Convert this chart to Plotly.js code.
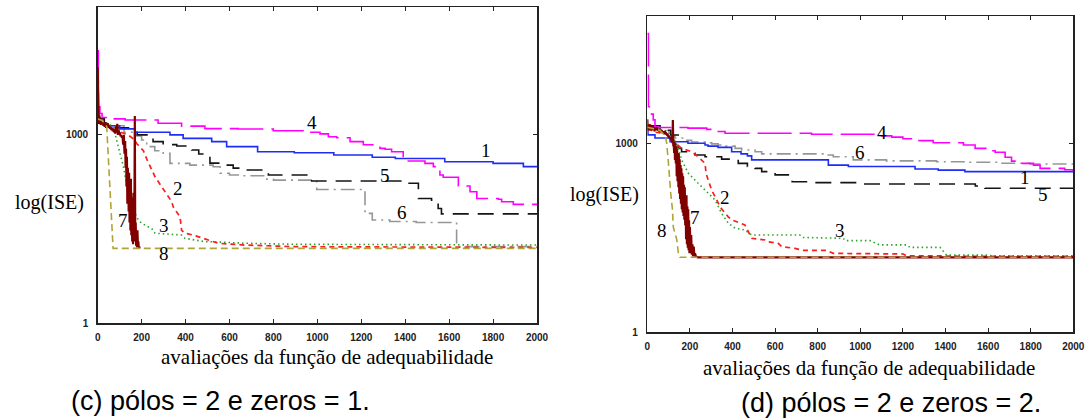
<!DOCTYPE html>
<html>
<head>
<meta charset="utf-8">
<script src="https://cdn.plot.ly/plotly-3.0.1.min.js"></script>
<style>html,body{margin:0;padding:0;background:#fff;}#chart{width:1089px;height:418px;}</style>
</head>
<body>
<div id="chart"></div>
<script>
// ---------- Data: panel (c) pólos = 2 e zeros = 1 ----------
const c1_x = [0, 10, 40, 100, 170, 329, 389, 519, 587, 728, 895, 1075, 1250, 1355, 1580, 1800, 1938, 2000];
const c1_y = [1900, 1550, 1400, 1250, 1100, 1000, 880, 780, 650, 540, 520, 478, 440, 420, 373, 352, 312, 312];

const c2_x = [0, 30, 79, 138, 170, 177, 208, 225, 261, 291, 314, 337, 344, 375, 382, 397, 435, 490, 520, 548, 670, 900, 2000];
const c2_y = [1800, 1500, 1190, 1000, 830, 730, 560, 400, 215, 150, 117, 86, 71, 49, 30, 27, 25.3, 22, 20, 18.7, 17.5, 16.5, 16];

const c3_x = [0, 30, 48, 71, 86, 94, 109, 117, 139, 155, 185, 200, 246, 261, 382, 397, 488, 519, 671, 900, 2000];
const c3_y = [1800, 1600, 1530, 1360, 830, 650, 400, 312, 117, 71, 44, 39, 32, 27, 25.3, 22.4, 19.8, 19.8, 18.7, 18, 17.5];

const c4_x = [0, 3, 10, 20, 60, 125, 275, 382, 488, 640, 799, 935, 1012, 1050, 1088, 1149, 1209, 1285, 1308, 1338, 1391, 1414, 1490, 1528, 1558, 1573, 1642, 1695, 1726, 1824, 1839, 1892, 2000];
const c4_y = [22000, 2800, 2200, 1900, 1800, 1730, 1530, 1380, 1260, 1240, 1165, 1100, 1040, 935, 900, 780, 695, 610, 589, 540, 424, 384, 352, 312, 229, 211, 153, 124, 97, 94, 86, 78, 75];

const c5_x = [0, 30, 80, 140, 180, 230, 252, 298, 360, 428, 460, 511, 557, 617, 663, 777, 974, 1400, 1460, 1520, 1550, 1565, 2000];
const c5_y = [1800, 1500, 1300, 1100, 1000, 900, 780, 700, 665, 575, 495, 355, 330, 295, 275, 229, 184, 169, 97, 91, 67, 55, 55];

const c6_x = [0, 30, 120, 177, 200, 223, 260, 298, 329, 420, 526, 557, 600, 663, 770, 800, 997, 1217, 1250, 1330, 1450, 1634, 2000];
const c6_y = [1700, 1400, 1100, 960, 830, 650, 560, 510, 352, 330, 310, 245, 229, 223, 196, 190, 135, 56, 44, 41.6, 40, 16.5, 16.5];

const c7_x = [0, 1, 2, 3, 5, 7, 9, 11, 14, 17, 20, 23, 26, 29, 32, 35, 38, 41, 44, 47, 50, 53, 56, 59, 62, 65, 68, 71, 74, 77, 80, 83, 86, 89, 92, 95, 98, 101, 104, 107, 110, 113, 116, 119, 122, 125, 127, 129, 131, 133, 135, 137, 139, 141, 143, 145, 147, 149, 151, 153, 155, 157, 159, 161, 163, 165, 167, 169, 171, 173, 175, 177, 179, 181, 183, 185, 187, 189, 191, 193, 195];
const c7_y = [12000, 5000, 2600, 1900, 1500, 2100, 1600, 1900, 1450, 1700, 1500, 1650, 1400, 1550, 1350, 1600, 1300, 1450, 1350, 1500, 1300, 1400, 1250, 1350, 1200, 1300, 1150, 1250, 1100, 1200, 1050, 1300, 1100, 1500, 1000, 1200, 1050, 1100, 950, 1000, 900, 950, 700, 1000, 500, 800, 300, 600, 150, 450, 80, 300, 200, 60, 250, 40, 150, 30, 200, 25, 100, 20, 60, 18, 120, 20, 40, 2000, 20, 40, 17, 25, 16, 30, 17, 20, 16, 16, 16, 16, 16];

const c8_x = [0, 20, 41, 48, 70, 2000];
const c8_y = [1800, 1700, 1360, 510, 15.5, 15.5];

// ---------- Data: panel (d) pólos = 2 e zeros = 2 ----------
const d1_x = [0, 3, 36, 107, 191, 271, 285, 332, 396, 440, 470, 490, 850, 944, 1257, 1366, 1491, 2000];
const d1_y = [1630, 1360, 1210, 1060, 1000, 940, 900, 860, 735, 680, 630, 545, 450, 427, 390, 375, 355, 355];

const d2_x = [0, 36, 83, 161, 208, 239, 271, 276, 286, 302, 326, 341, 380, 396, 458, 474, 490, 553, 568, 615, 631, 693, 732, 842, 873, 1202, 1218, 1374, 1500, 2000];
const d2_y = [1700, 1500, 1440, 830, 735, 610, 480, 334, 260, 181, 126, 98, 68, 61, 50.6, 40.5, 31, 29.2, 27.4, 25.8, 22.8, 21.5, 20, 20, 17.9, 17.5, 16.3, 16.3, 16, 16];

const d3_x = [0, 83, 114, 145, 161, 193, 224, 255, 286, 318, 349, 380, 412, 458, 490, 716, 732, 920, 930, 1045, 1090, 1218, 1233, 1374, 1405, 1600, 1620, 2000];
const d3_y = [1700, 1630, 1360, 880, 545, 334, 260, 205, 160, 126, 77, 54, 45, 42, 35, 35, 32, 31, 28.5, 28.5, 24.4, 24.4, 22.3, 22.3, 16.8, 16.8, 16.3, 16.3];

const d4_x = [0, 5, 15, 28, 36, 50, 191, 279, 302, 365, 771, 1100, 1148, 1200, 1270, 1342, 1484, 1539, 1594, 1633, 1680, 1710, 1734, 1813, 1844, 1960, 2000];
const d4_y = [55000, 3800, 2900, 2350, 1830, 1780, 1740, 1660, 1540, 1440, 1390, 1310, 1250, 1180, 1100, 1020, 940, 830, 760, 720, 600, 520, 480, 450, 400, 380, 355];

const d5_x = [0, 60, 110, 145, 161, 193, 224, 271, 349, 427, 470, 506, 537, 600, 662, 680, 763, 1000, 1500, 1540, 1585, 2000];
const d5_y = [1900, 1600, 1350, 830, 735, 695, 650, 610, 560, 480, 427, 400, 355, 315, 295, 245, 237, 226, 226, 210, 193, 193];

const d6_x = [0, 50, 100, 130, 176, 208, 271, 302, 333, 365, 412, 443, 506, 537, 842, 873, 967, 1123, 1358, 1491, 1640, 1797, 2000];
const d6_y = [1800, 1500, 1300, 1210, 1110, 1050, 1020, 980, 940, 900, 830, 780, 735, 680, 650, 610, 545, 525, 510, 500, 482, 470, 470];

const d7_x = [0, 2, 4, 6, 8, 10, 13, 16, 19, 22, 25, 28, 31, 34, 37, 40, 44, 48, 52, 56, 60, 64, 68, 72, 76, 80, 84, 88, 92, 96, 100, 104, 108, 112, 114, 116, 118, 120, 122, 124, 126, 128, 130, 132, 134, 136, 138, 140, 142, 144, 146, 148, 150, 152, 154, 156, 158, 160, 162, 164, 166, 168, 170, 172, 174, 176, 178, 180, 182, 184, 186, 188, 190, 192, 194, 196, 198, 200, 203, 206, 209, 212, 215, 218, 221, 224, 228, 232, 236, 240, 2000];
const d7_y = [2400, 1700, 2000, 1600, 1900, 1750, 2000, 1650, 1850, 1600, 1900, 1700, 1800, 1550, 1750, 1650, 1800, 1600, 1700, 1550, 1650, 1500, 1600, 1450, 1550, 1400, 1500, 1450, 1400, 1350, 1300, 1250, 1200, 1150, 1110, 1300, 1000, 2350, 900, 1000, 700, 1050, 545, 1000, 480, 900, 300, 800, 250, 700, 200, 690, 160, 560, 130, 450, 110, 400, 90, 335, 80, 300, 70, 220, 61, 200, 50, 130, 30, 150, 25, 100, 22, 90, 20, 60, 18, 47, 18, 35, 17, 25, 16, 23, 16, 18, 16, 15.6, 15.5, 15.5, 15.5];

const d8_x = [0, 60, 85, 91, 99, 104, 110, 118, 122, 130, 138, 146, 153, 2000];
const d8_y = [1800, 1600, 1300, 1000, 500, 250, 160, 90, 47, 37, 30, 18, 15.5, 15.5];

const xTicks = [0, 200, 400, 600, 800, 1000, 1200, 1400, 1600, 1800, 2000];
const yTicks = [1, 1000];
const yTickText = ['1', '1000'];
const curveNames = ['1', '2', '3', '4', '5', '6', '7', '8'];
const yLabel = 'log(ISE)';
const xLabel = 'avaliações da função de adequabilidade';
const captionC = '(c) pólos = 2 e zeros = 1.';
const captionD = '(d) pólos = 2 e zeros = 2.';

// ---------- Styles ----------
const W = 1089, H = 418;
const fx = p => p / W;
const fy = p => 1 - p / H;

const styles = {
  '1': {color: 'rgb(30,45,245)', width: 1.6, dash: 'solid', shape: 'hv'},
  '2': {color: 'rgb(250,30,30)', width: 1.7, dash: '5px,4px', shape: 'linear'},
  '3': {color: 'rgb(40,165,40)', width: 1.6, dash: '1.5px,3px', shape: 'linear'},
  '4': {color: 'rgb(255,0,255)', width: 1.6, dash: '34px,8px', shape: 'hv'},
  '5': {color: 'rgb(20,20,20)', width: 1.6, dash: '16px,9px', shape: 'hv'},
  '6': {color: 'rgb(150,150,150)', width: 1.6, dash: '14px,5px,2px,5px', shape: 'hv'},
  '7': {color: 'rgb(128,0,0)', width: 2.2, dash: 'solid', shape: 'linear'},
  '8': {color: 'rgb(175,165,55)', width: 1.6, dash: '7px,4px', shape: 'linear'}
};

function tr(name, x, y, xa, ya) {
  const s = styles[name];
  return {x: x, y: y, xaxis: xa, yaxis: ya, mode: 'lines', name: name,
    line: {color: s.color, width: s.width, dash: s.dash, shape: s.shape}, hoverinfo: 'skip'};
}

const cSeries = {'1': [c1_x, c1_y], '2': [c2_x, c2_y], '3': [c3_x, c3_y], '4': [c4_x, c4_y],
  '5': [c5_x, c5_y], '6': [c6_x, c6_y], '7': [c7_x, c7_y], '8': [c8_x, c8_y]};
const dSeries = {'1': [d1_x, d1_y], '2': [d2_x, d2_y], '3': [d3_x, d3_y], '4': [d4_x, d4_y],
  '5': [d5_x, d5_y], '6': [d6_x, d6_y], '7': [d7_x, d7_y], '8': [d8_x, d8_y]};
const order = ['6', '5', '1', '4', '3', '2', '7', '8'];

const data = [];
order.forEach(n => data.push(tr(n, cSeries[n][0], cSeries[n][1], 'x', 'y')));
order.forEach(n => data.push(tr(n, dSeries[n][0], dSeries[n][1], 'x2', 'y2')));

const tickFont = {family: 'Liberation Sans, Arial, sans-serif', size: 10, color: '#222', weight: 'bold'};
function xax(domain, anchor) {
  return {domain: domain, anchor: anchor, range: [0, 2000], tickvals: xTicks,
    ticks: 'inside', ticklen: 4, tickwidth: 1, tickcolor: '#222', mirror: 'ticks',
    showline: true, linecolor: '#222', linewidth: 1.5, showgrid: false, zeroline: false,
    tickfont: tickFont, ticklabelstandoff: 4};
}
function yax(domain, anchor, top) {
  return {domain: domain, anchor: anchor, type: 'log', range: [0, top], tickvals: yTicks, ticktext: yTickText,
    ticks: 'inside', ticklen: 4, tickwidth: 1, tickcolor: '#222', mirror: 'ticks',
    showline: true, linecolor: '#222', linewidth: 1.5, showgrid: false, zeroline: false,
    tickfont: tickFont, ticklabelstandoff: 6};
}

const serif = '"Liberation Serif", "Times New Roman", serif';
const sans = '"Liberation Sans", Arial, sans-serif';
function lab(text, px, py, size, family) {
  return {text: text, xref: 'paper', yref: 'paper', x: fx(px), y: fy(py), xanchor: 'center', yanchor: 'middle',
    showarrow: false, font: {family: family || serif, size: size || 19, color: '#000'}};
}

const cLabelPos = {'4': [312, 122], '1': [486, 150], '5': [385, 175], '2': [178, 188], '6': [402, 212], '7': [123, 220], '3': [164, 225], '8': [164, 253]};
const dLabelPos = {'4': [882, 132], '6': [860, 152], '1': [1025, 177], '5': [1043, 194], '3': [840, 230], '2': [725, 197], '7': [695, 217], '8': [662, 230]};

const annotations = [];
curveNames.forEach(n => annotations.push(lab(n, cLabelPos[n][0], cLabelPos[n][1])));
curveNames.forEach(n => annotations.push(lab(n, dLabelPos[n][0], dLabelPos[n][1])));
annotations.push(lab(yLabel, 50, 202, 20));
annotations.push(lab(yLabel, 604, 194, 20));
annotations.push(lab(xLabel, 327, 357, 21));
annotations.push(lab(xLabel, 869, 368, 21));
annotations.push(lab(captionC, 220, 401, 27, sans));
annotations.push(lab(captionD, 891, 403, 27, sans));

const layout = {
  width: W, height: H, autosize: false,
  margin: {l: 0, r: 0, t: 0, b: 0, pad: 0},
  paper_bgcolor: '#fff', plot_bgcolor: '#fff', showlegend: false,
  xaxis: xax([fx(97.7), fx(537)], 'y'),
  yaxis: yax([fy(323), fy(7)], 'x', 5.04),
  xaxis2: xax([fx(647.3), fx(1073.3)], 'y2'),
  yaxis2: yax([fy(332.3), fy(16)], 'x2', 5.02),
  annotations: annotations
};

Plotly.newPlot('chart', data, layout, {staticPlot: true, displayModeBar: false});
</script>
</body>
</html>
